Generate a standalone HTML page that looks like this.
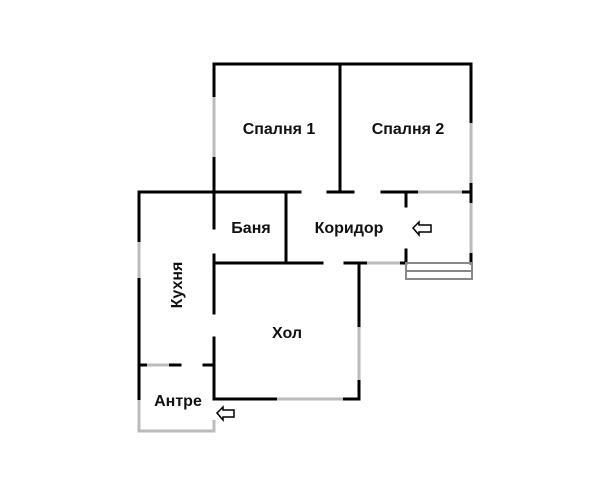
<!DOCTYPE html>
<html><head><meta charset="utf-8"><style>
html,body{margin:0;padding:0;background:#fff;}
svg{display:block}
text{font-family:"Liberation Sans",Arial,sans-serif;font-weight:bold;font-size:16px;fill:#111;}
</style></head><body>
<svg width="612" height="500" viewBox="0 0 612 500">
<g stroke="#000" stroke-width="3" fill="none" stroke-linecap="square">
<line x1="214" y1="64" x2="471" y2="64"/>
<line x1="340" y1="64" x2="340" y2="192"/>
<line x1="214" y1="64" x2="214" y2="97"/>
<line x1="214" y1="157" x2="214" y2="228"/>
<line x1="471" y1="64" x2="471" y2="123"/>
<line x1="471" y1="183" x2="471" y2="203"/>
<line x1="471" y1="253" x2="471" y2="263"/>
<line x1="139" y1="192" x2="300" y2="192"/>
<line x1="328" y1="192" x2="353" y2="192"/>
<line x1="382" y1="192" x2="418" y2="192"/>
<line x1="462" y1="192" x2="471" y2="192"/>
<line x1="139" y1="192" x2="139" y2="242"/>
<line x1="139" y1="278" x2="139" y2="400"/>
<line x1="214" y1="255" x2="214" y2="313"/>
<line x1="214" y1="338" x2="214" y2="399"/>
<line x1="286" y1="192" x2="286" y2="263"/>
<line x1="214" y1="263" x2="322" y2="263"/>
<line x1="345" y1="263" x2="367" y2="263"/>
<line x1="400" y1="263" x2="406" y2="263"/>
<line x1="406" y1="192" x2="406" y2="206"/>
<line x1="406" y1="250" x2="406" y2="263"/>
<line x1="359" y1="263" x2="359" y2="327"/>
<line x1="359" y1="380" x2="359" y2="399"/>
<line x1="214" y1="399" x2="277" y2="399"/>
<line x1="343" y1="399" x2="359" y2="399"/>
<line x1="139" y1="365" x2="147" y2="365"/>
<line x1="169" y1="365" x2="180" y2="365"/>
<line x1="204" y1="365" x2="214" y2="365"/>
</g>
<g stroke="#bbb" stroke-width="3" fill="none">
<line x1="214" y1="97" x2="214" y2="157"/>
<line x1="471" y1="123" x2="471" y2="183"/>
<line x1="471" y1="203" x2="471" y2="253"/>
<line x1="418" y1="192" x2="462" y2="192"/>
<line x1="367" y1="263" x2="400" y2="263"/>
<line x1="139" y1="242" x2="139" y2="278"/>
<line x1="359" y1="327" x2="359" y2="380"/>
<line x1="277" y1="399" x2="343" y2="399"/>
<line x1="147" y1="365" x2="169" y2="365"/>
<polyline points="139,400 139,431 214,431 214,420"/>
</g>
<g stroke="#888" stroke-width="2" fill="none">
<rect x="406" y="263" width="66" height="16"/>
<line x1="406" y1="271" x2="472" y2="271"/>
</g>
<g stroke="#000" stroke-width="1.5" fill="#fff" stroke-linejoin="miter">
<polygon points="413,228 419,222 419,225 431,225 431,232 419,232 419,235"/>
<polygon points="217,413 223,407 223,410 234,410 234,417 223,417 223,420"/>
</g>
<text x="279" y="134" text-anchor="middle">Спалня 1</text>
<text x="408" y="134" text-anchor="middle">Спалня 2</text>
<text x="251" y="233" text-anchor="middle">Баня</text>
<text x="349" y="233" text-anchor="middle">Коридор</text>
<text x="287" y="338" text-anchor="middle">Хол</text>
<text x="178" y="406" text-anchor="middle">Антре</text>
<text transform="translate(182,285) rotate(-90)" text-anchor="middle">Кухня</text>
</svg>
</body></html>
